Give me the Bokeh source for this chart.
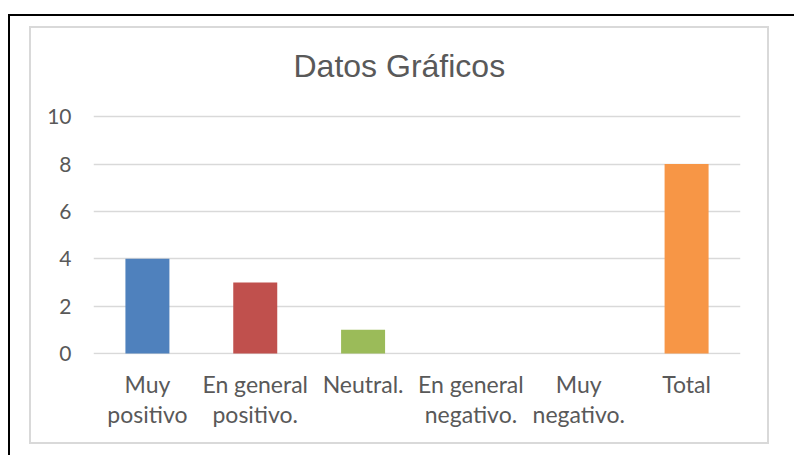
from bokeh.plotting import figure
from bokeh.models import (FactorRange, Range1d, FixedTicker, CategoricalAxis,
                          ColumnDataSource, CustomJSTickFormatter)
from bokeh.layouts import column
from bokeh.embed import file_html
from bokeh.resources import INLINE

# ---- data ----
categories = ["Muy positivo", "En general positivo.", "Neutral.",
              "En general negativo.", "Muy negativo.", "Total"]
label_line1 = ["Muy", "En general", "Neutral.", "En general", "Muy", "Total"]
label_line2 = ["positivo", "positivo.", "", "negativo.", "negativo.", ""]
values = [4, 3, 1, 0, 0, 8]
colors = ["#4F81BD", "#C0504D", "#9BBB59", "#8064A2", "#4BACC6", "#F79646"]
y_ticks = [0, 2, 4, 6, 8, 10]
title_text = "Datos Gráficos"

src = ColumnDataSource(dict(cat=categories, val=values, color=colors))

p = figure(width=736, height=414, output_backend="svg", toolbar_location=None,
           x_range=FactorRange(*categories, range_padding=0),
           y_range=Range1d(-0.04, 10.68),
           min_border_left=62, min_border_right=27,
           min_border_top=72, min_border_bottom=88)

p.vbar(x="cat", top="val", width=0.408, fill_color="color", line_color=None, source=src)

# title
p.title.text = title_text
p.title.align = "left"
p.title.offset = 200
p.title.standoff = 33
p.title.vertical_align = "bottom"
p.title.text_font = "Liberation Sans"
p.title.text_font_size = "32px"
p.title.text_font_style = "normal"
p.title.text_color = "#595959"

code = "const i = cats.indexOf(tick); return i >= 0 ? lab[i] : tick;"
fmt1 = CustomJSTickFormatter(args=dict(cats=categories, lab=label_line1), code=code)
fmt2 = CustomJSTickFormatter(args=dict(cats=categories, lab=label_line2), code=code)

# second row of category labels
x2 = CategoricalAxis()
p.add_layout(x2, "below")
p.xaxis[0].formatter = fmt1
x2.formatter = fmt2

p.yaxis.ticker = FixedTicker(ticks=y_ticks)
for ax in (p.xaxis[0], x2, p.yaxis[0]):
    ax.axis_line_color = None
    ax.major_tick_line_color = None
    ax.minor_tick_line_color = None
    ax.major_tick_out = 0
    ax.major_tick_in = 0
    ax.minor_tick_out = 0
    ax.major_label_text_color = "#595959"
    ax.major_label_text_font = "Lato"
    ax.major_label_text_font_size = "23px"
p.yaxis.major_label_text_font_size = "21px"
p.yaxis.major_label_standoff = 22
p.xaxis[0].major_label_standoff = 15
x2.major_label_standoff = -1

p.xgrid.grid_line_color = None
p.ygrid.grid_line_color = "#D9D9D9"
p.ygrid.grid_line_width = 1.5
p.outline_line_color = None
p.background_fill_color = "white"
p.border_fill_color = "white"

inner = column(p, styles={"border": "2px solid #D9D9D9"})
outer = column(inner, styles={"border-top": "2px solid black",
                              "border-left": "2px solid black",
                              "margin-top": "14px",
                              "margin-left": "8px",
                              "padding-top": "10px",
                              "padding-left": "19px",
                              "padding-right": "25px",
                              "padding-bottom": "11px"})

open("out.html", "w").write(file_html(outer, INLINE))
